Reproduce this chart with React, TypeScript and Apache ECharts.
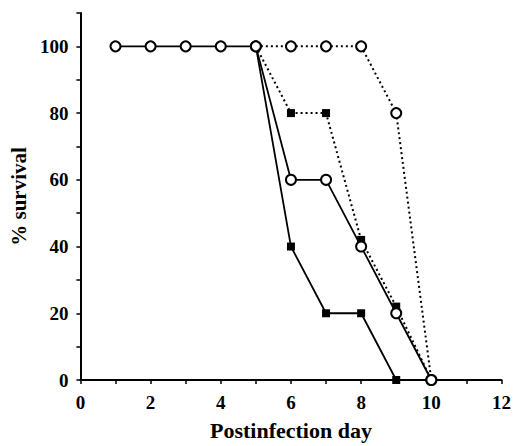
import React, { useEffect, useRef } from "react";
import * as echarts from "echarts";

const daysSolidCircle = [1, 2, 3, 4, 5, 6, 7, 8, 9, 10];
const valsSolidCircle = [100, 100, 100, 100, 100, 60, 60, 40, 20, 0];

const daysSolidSquare = [5, 6, 7, 8, 9];
const valsSolidSquare = [100, 40, 20, 20, 0];

const daysDotSquare = [5, 6, 7, 8, 9, 10];
const valsDotSquare = [100, 80, 80, 42, 22, 0];

const daysDotCircle = [5, 6, 7, 8, 9, 10];
const valsDotCircle = [100, 100, 100, 100, 80, 0];

const xTicks = [0, 2, 4, 6, 8, 10, 12];
const yTicks = [0, 20, 40, 60, 80, 100];

const pairs = (xs: number[], ys: number[]) => xs.map((x, i) => [x, ys[i]]);

export default function App() {
  const ref = useRef<HTMLDivElement>(null);
  useEffect(() => {
    if (!ref.current) return;
    const chart = echarts.init(ref.current, null, { renderer: "svg" });
    const font = "Liberation Serif";
    const circleStyle = { color: "#fff", borderColor: "#000", borderWidth: 2 };
    const squareStyle = { color: "#000", borderColor: "#000", borderWidth: 0 };
    chart.setOption({
      animation: false,
      backgroundColor: "#fff",
      grid: { left: 80, right: 10, top: 13, bottom: 60, containLabel: false },
      xAxis: {
        type: "value",
        min: 0,
        max: 12,
        interval: 1,
        name: "Postinfection day",
        nameLocation: "middle",
        nameGap: 39,
        nameTextStyle: { fontFamily: font, fontWeight: "bold", fontSize: 22, color: "#000" },
        axisLine: { show: true, lineStyle: { color: "#000", width: 2 } },
        axisTick: { show: true, inside: false, length: 4, lineStyle: { color: "#000", width: 1.5 } },
        axisLabel: {
          fontFamily: font,
          fontWeight: "bold",
          fontSize: 19,
          color: "#000",
          margin: 13,
          formatter: (v: number) => (xTicks.includes(v) ? String(v) : ""),
        },
        splitLine: { show: false },
      },
      yAxis: {
        type: "value",
        min: 0,
        max: 110,
        interval: 10,
        name: "% survival",
        nameLocation: "middle",
        nameGap: 48,
        nameTextStyle: { fontFamily: font, fontWeight: "bold", fontSize: 21, color: "#000" },
        axisLine: { show: true, lineStyle: { color: "#000", width: 2 } },
        axisTick: { show: true, inside: false, length: 4, lineStyle: { color: "#000", width: 1.5 } },
        axisLabel: {
          fontFamily: font,
          fontWeight: "bold",
          fontSize: 19,
          color: "#000",
          margin: 12,
          formatter: (v: number) => (yTicks.includes(v) ? String(v) : ""),
        },
        splitLine: { show: false },
      },
      series: [
        {
          type: "line",
          data: pairs(daysDotCircle, valsDotCircle),
          lineStyle: { color: "#000", width: 2, type: [2, 3] },
          symbol: "circle",
          symbolSize: 10,
          itemStyle: circleStyle,
          z: 2,
        },
        {
          type: "line",
          data: pairs(daysDotSquare, valsDotSquare),
          lineStyle: { color: "#000", width: 2, type: [2, 3] },
          symbol: "rect",
          symbolSize: 8,
          itemStyle: squareStyle,
          z: 3,
        },
        {
          type: "line",
          data: pairs(daysSolidSquare, valsSolidSquare),
          lineStyle: { color: "#000", width: 1.8, type: "solid" },
          symbol: "rect",
          symbolSize: 8,
          itemStyle: squareStyle,
          z: 4,
        },
        {
          type: "line",
          data: pairs(daysSolidCircle, valsSolidCircle),
          lineStyle: { color: "#000", width: 1.8, type: "solid" },
          symbol: "circle",
          symbolSize: 10,
          itemStyle: circleStyle,
          z: 5,
        },
      ],
    });
    return () => chart.dispose();
  }, []);
  return <div ref={ref} style={{ width: 514, height: 446, position: "absolute", left: 0, top: 0 }} />;
}
